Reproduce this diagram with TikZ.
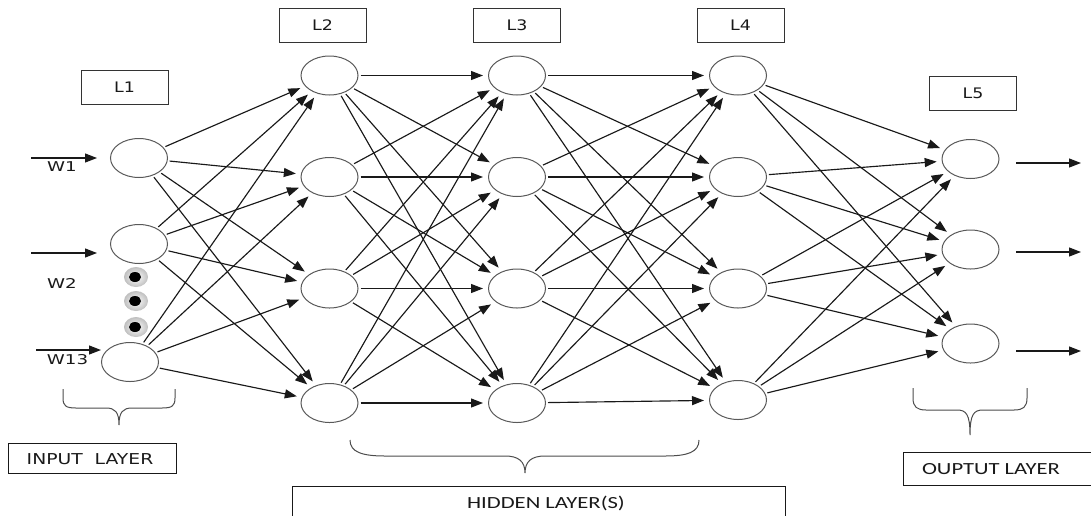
\documentclass[tikz,border=0pt]{standalone}
\usepackage{graphicx}
\usepackage{fontspec}
\setmainfont{DejaVu Sans}
\newfontfamily\capfont{Carlito}
\usetikzlibrary{shapes.geometric,arrows.meta}
% widened lettering used throughout the figure
\newcommand\wide[2]{\scalebox{#1}[1]{#2}}
\begin{document}
\begin{tikzpicture}[x=1pt,y=-1pt,
  neuron/.style={ellipse,draw=black!65,line width=1pt,minimum width=57pt,minimum height=39pt,inner sep=0pt},
  layerbox/.style={draw=black!80,line width=1pt,minimum width=87pt,minimum height=34pt,inner sep=0pt,
                   font=\fontsize{14.5}{16}\selectfont,text=black!90},
  link/.style={line width=1.15pt,draw=black!90,-{Triangle[length=12pt,width=9pt]},shorten <=2pt,shorten >=5pt},
  feed/.style={line width=1.15pt,draw=black!90,-{Triangle[length=12pt,width=9pt]}},
  wlabel/.style={inner sep=0pt,font=\fontsize{13.5}{15}\selectfont,text=black!90},
  brace/.style={draw=black!70,line width=1pt},
  caption/.style={draw=black!90,line width=1pt,inner sep=0pt},
  dothalo/.style={ellipse,minimum width=24pt,minimum height=20pt,inner sep=0pt,inner color=white,outer color=black!25},
  dotcore/.style={ellipse,fill=black,minimum width=12pt,minimum height=10pt,inner sep=0pt}
]
\useasboundingbox (0,0) rectangle (1091,515);

% layer titles
\node[layerbox] (t1) at (124.5,87.5) {\wide{1.2}{L1}};
\node[layerbox] (t2) at (322.5,25)   {\wide{1.2}{L2}};
\node[layerbox] (t3) at (517,25)     {\wide{1.2}{L3}};
\node[layerbox] (t4) at (740.5,25)   {\wide{1.2}{L4}};
\node[layerbox] (t5) at (973,93)     {\wide{1.2}{L5}};

% neurons
\foreach \n/\x/\y in {a1/139/158, a2/139/244, a3/130/362,
                      b1/329.5/75.5, b2/329.5/177, b3/329.5/288.5, b4/329.5/403,
                      c1/517/75.5, c2/517/177, c3/517/288.5, c4/517/403,
                      d1/738/75.5, d2/738/177, d3/738/288.5, d4/738/400,
                      e1/970.5/159, e2/970.5/249.5, e3/970.5/343.5}
  \node[neuron] (\n) at (\x,\y) {};

% fully connected layers
\foreach \s in {a1,a2,a3} \foreach \t in {b1,b2,b3,b4} \draw[link] (\s) -- (\t);
\foreach \s in {b1,b2,b3,b4} \foreach \t in {c1,c2,c3,c4} \draw[link] (\s) -- (\t);
\foreach \s in {c1,c2,c3,c4} \foreach \t in {d1,d2,d3,d4} \draw[link] (\s) -- (\t);
\foreach \s in {d1,d2,d3,d4} \foreach \t in {e1,e2,e3} \draw[link] (\s) -- (\t);

% inputs
\coordinate (i1) at (31,158);  \coordinate (j1) at (97,158);
\coordinate (i2) at (31,253);  \coordinate (j2) at (97,253);
\coordinate (i3) at (36,350);  \coordinate (j3) at (101,350);
\draw[feed] (i1) -- (j1);
\draw[feed] (i2) -- (j2);
\draw[feed] (i3) -- (j3);
\node[wlabel] (w1) at (62,167)   {\wide{1.35}{W1}};
\node[wlabel] (w2) at (62,283)   {\wide{1.35}{W2}};
\node[wlabel] (w3) at (67.5,360) {\wide{1.35}{W13}};

% ellipsis dots between inputs
\foreach \k/\y in {1/277,2/301,3/327} {
  \node[dothalo] (h\k) at (136,\y) {};
  \node[dotcore] (p\k) at (135,\y) {};
}

% outputs
\coordinate (o1) at (1016,163); \coordinate (q1) at (1081,163);
\coordinate (o2) at (1016,252); \coordinate (q2) at (1081,252);
\coordinate (o3) at (1016,351); \coordinate (q3) at (1081,351);
\draw[feed] (o1) -- (q1);
\draw[feed] (o2) -- (q2);
\draw[feed] (o3) -- (q3);

% braces
\draw[brace] (63,389) -- (63,398) .. controls (63,406) and (66,408) .. (76,408) -- (106,408)
  .. controls (115,408) and (119,412) .. (119,425)
  .. controls (119,412) and (123,408) .. (132,408) -- (162,408)
  .. controls (172,408) and (175,406) .. (175,398) -- (175,389);
\draw[brace] (350,440) .. controls (350,452) and (362,456) .. (385,456) -- (505,456)
  .. controls (518,456) and (525,461) .. (525,473)
  .. controls (525,461) and (532,456) .. (545,456) -- (665,456)
  .. controls (688,456) and (699,452) .. (699,440);
\draw[brace] (913,388) -- (913,398) .. controls (913,407) and (917,410) .. (926,410) -- (957,410)
  .. controls (966,410) and (970,414) .. (970,435)
  .. controls (970,414) and (974,410) .. (983,410) -- (1014,410)
  .. controls (1023,410) and (1027,407) .. (1027,398) -- (1027,388);

% captions
\draw[caption] (8,443) rectangle (176,473);
\node[inner sep=0pt,font=\fontsize{15}{17}\selectfont,text=black!90] (cin) at (90,459) {\wide{1.25}{INPUT\ \ LAYER}};
\draw[caption] (292,520) -- (292,486) -- (785,486) -- (785,520);
\node[inner sep=0pt,font=\capfont\fontsize{17}{19}\selectfont,text=black!90] (chid) at (546,503) {\wide{1.33}{HIDDEN LAYER(S)}};
\draw[caption] (1095,485) -- (903,485) -- (903,452) -- (1095,452);
\node[inner sep=0pt,font=\capfont\fontsize{17}{19}\selectfont,text=black!90] (cout) at (991,469) {\wide{1.33}{OUPTUT LAYER}};
\end{tikzpicture}
\end{document}
